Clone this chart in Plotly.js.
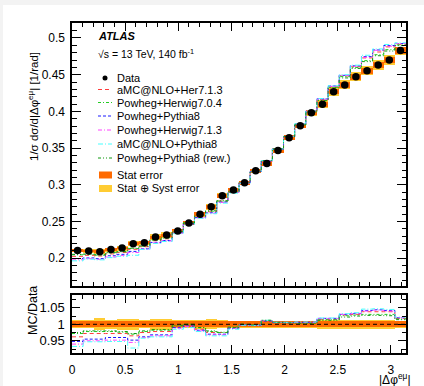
<!DOCTYPE html>
<html><head><meta charset="utf-8">
<script src="https://cdn.plot.ly/plotly-3.0.1.min.js"></script>
<style>
html,body{margin:0;padding:0;background:#f3f3f3;width:424px;height:386px;overflow:hidden}
#chart{position:absolute;left:3px;top:5px;width:421px;height:381px;background:#fff}
</style></head><body><div id="chart"></div>
<script>
// ---------------- data ----------------
const nBins = 30;
const xMax = Math.PI;
const dataVals = [0.2105,0.2098,0.2088,0.2118,0.2138,0.2198,0.2212,0.2288,0.2315,0.2370,
  0.2480,0.2600,0.2700,0.2850,0.2930,0.3028,0.3190,0.3290,0.3468,0.3640,
  0.3805,0.3980,0.4097,0.4269,0.4360,0.4473,0.4555,0.4633,0.4700,0.4828];
const statRel = [0.009,0.009,0.009,0.009,0.009,0.009,0.009,0.009,0.009,0.009,
  0.009,0.009,0.009,0.009,0.009,0.009,0.009,0.009,0.009,0.009,
  0.009,0.009,0.009,0.009,0.009,0.009,0.009,0.009,0.009,0.009];
const totRel = [0.012,0.012,0.018,0.013,0.016,0.016,0.012,0.016,0.016,0.012,
  0.012,0.013,0.015,0.012,0.010,0.010,0.010,0.010,0.010,0.010,
  0.010,0.010,0.014,0.014,0.014,0.014,0.014,0.014,0.014,0.011];
const seriesNames = ["aMC@NLO+Her7.1.3","Powheg+Herwig7.0.4","Powheg+Pythia8",
  "Powheg+Herwig7.1.3","aMC@NLO+Pythia8","Powheg+Pythia8 (rew.)"];
const ratioAmcHer713 = [0.962,0.972,0.972,0.972,0.972,0.965,0.975,0.978,0.978,0.992,
  0.995,0.985,0.975,0.975,0.990,1.000,0.998,1.010,1.006,1.005,
  1.005,1.005,1.015,1.015,1.028,1.030,1.038,1.038,1.038,1.018];
const ratioPowHer704 = [0.972,0.978,0.978,0.978,0.976,0.970,0.978,0.982,0.982,0.995,
  1.000,0.990,0.978,0.975,0.992,1.000,0.998,1.012,1.006,1.005,
  1.004,1.004,1.014,1.014,1.026,1.028,1.030,1.030,1.030,1.016];
const ratioPowPy8 = [0.948,0.955,0.955,0.960,0.960,0.952,0.962,0.968,0.968,0.990,
  0.995,0.982,0.970,0.970,0.988,0.998,0.997,1.010,1.005,1.005,
  1.006,1.006,1.018,1.018,1.030,1.033,1.042,1.044,1.042,1.020];
const ratioPowHer713 = [0.940,0.950,0.950,0.952,0.952,0.945,0.960,0.965,0.965,0.988,
  0.993,0.980,0.968,0.968,0.988,0.998,0.997,1.011,1.006,1.005,
  1.006,1.006,1.017,1.017,1.030,1.032,1.040,1.043,1.040,1.020];
const ratioAmcPy8 = [0.933,0.947,0.947,0.948,0.948,0.928,0.958,0.962,0.962,0.985,
  0.990,0.978,0.965,0.965,0.985,0.997,0.996,1.012,1.006,1.006,
  1.007,1.007,1.019,1.019,1.032,1.035,1.046,1.047,1.045,1.022];
const ratioPowPy8Rew = [0.975,0.980,0.980,0.980,0.978,0.972,0.980,0.984,0.984,0.997,
  1.000,0.990,0.980,0.976,0.990,1.000,0.998,1.012,1.006,1.004,
  1.003,1.003,1.012,1.012,1.022,1.025,1.027,1.027,1.026,1.014];
const ratios = [ratioAmcHer713, ratioPowHer704, ratioPowPy8, ratioPowHer713, ratioAmcPy8, ratioPowPy8Rew];

// ---------------- styles ----------------
const colors = ["#ff3b3b","#22cc22","#1a1aff","#ff44ff","#44ffff","#119911"];
const dashes = ["4px,3px","3px,2px,1px,2px","3px,2px","4px,2px,1px,2px","5px,2px,1px,2px","3px,2px,1px,2px,1px,2px"];
const cStat = "#ff6a00", cSyst = "#ffcc33";
const FONT = "Liberation Sans, Arial, Helvetica, sans-serif";

// bin geometry
const bw = xMax / nBins;
const centers = [], edges = [];
for (let i = 0; i < nBins; i++) centers.push((i + 0.5) * bw);
for (let i = 0; i <= nBins; i++) edges.push(i * bw);
const stepY = a => a.concat([a[a.length - 1]]);

const traces = [];
// main panel boxes
traces.push({type:'bar', x:centers, width:bw, base:dataVals.map((v,i)=>v*(1-totRel[i])),
  y:dataVals.map((v,i)=>2*v*totRel[i]), marker:{color:cSyst, line:{width:0}}, xaxis:'x2', yaxis:'y', hoverinfo:'skip'});
traces.push({type:'bar', x:centers, width:bw, base:dataVals.map((v,i)=>v*(1-statRel[i])),
  y:dataVals.map((v,i)=>2*v*statRel[i]), marker:{color:cStat, line:{width:0}}, xaxis:'x2', yaxis:'y', hoverinfo:'skip'});
// ratio bands
traces.push({type:'bar', x:centers, width:bw, base:totRel.map(e=>1-e), y:totRel.map(e=>2*e),
  marker:{color:cSyst, line:{width:0}}, xaxis:'x', yaxis:'y2', hoverinfo:'skip'});
traces.push({type:'bar', x:centers, width:bw, base:statRel.map(e=>1-e), y:statRel.map(e=>2*e),
  marker:{color:cStat, line:{width:0}}, xaxis:'x', yaxis:'y2', hoverinfo:'skip'});
// MC lines
ratios.forEach((r, k) => {
  const mc = dataVals.map((v,i)=>v*r[i]);
  traces.push({type:'scatter', mode:'lines', x:edges, y:stepY(mc), line:{shape:'hv', color:colors[k], width:1, dash:dashes[k]},
    xaxis:'x2', yaxis:'y', name:seriesNames[k]});
  traces.push({type:'scatter', mode:'lines', x:edges, y:stepY(r), line:{shape:'hv', color:colors[k], width:1, dash:dashes[k]},
    xaxis:'x', yaxis:'y2', name:seriesNames[k]});
});
// data points
traces.push({type:'scatter', mode:'markers', x:centers, y:dataVals, marker:{color:'#000', size:7.5},
  xaxis:'x2', yaxis:'y', name:'Data'});

// ---------------- layout helpers ----------------
const OX = 3, OY = 5, L = 69, T = 18, W = 334, H = 330;
const px = x => (x - OX - L) / W;
const py = y => (T + H - (y - OY)) / H;

const axCommon = {
  showline:true, linecolor:'#000', linewidth:1.6, mirror:'allticks', ticks:'inside',
  tickcolor:'#000', tickwidth:1, showgrid:false, zeroline:false,
  tickfont:{family:FONT, size:12, color:'#000'}
};
const layout = {
  width:421, height:381, margin:{l:L, r:421-L-W, t:T, b:381-T-H},
  paper_bgcolor:'#fff', plot_bgcolor:'#fff', showlegend:false,
  barmode:'overlay', bargap:0,
  font:{family:FONT, color:'#000'},
  xaxis:Object.assign({}, axCommon, {anchor:'y2', domain:[0,1], range:[0, xMax], tick0:0, dtick:0.5,
    ticklen:8, minor:{dtick:0.1, ticklen:4, ticks:'inside', tickcolor:'#000'}, ticklabelstandoff:5}),
  xaxis2:Object.assign({}, axCommon, {anchor:'y', matches:'x', domain:[0,1], range:[0, xMax], tick0:0, dtick:0.5,
    ticklen:8, showticklabels:false, minor:{dtick:0.1, ticklen:4, ticks:'inside', tickcolor:'#000'}}),
  yaxis:Object.assign({}, axCommon, {domain:[0.203,1], range:[0.1621, 0.5204], tick0:0, dtick:0.05,
    ticklen:9, minor:{dtick:0.01, ticklen:4.5, ticks:'inside', tickcolor:'#000'},
    tickfont:{family:FONT, size:12, color:'#000'}, ticklabelstandoff:3}),
  yaxis2:Object.assign({}, axCommon, {domain:[0,0.1758], range:[0.913, 1.0888], tickvals:[0.95,1,1.05],
    ticktext:['0.95','1','1.05'], ticklen:8, minor:{tickvals:[0.925,0.975,1.025,1.075], ticklen:4, ticks:'inside', tickcolor:'#000'},
    tickfont:{family:FONT, size:13, color:'#000'}, ticklabelstandoff:3}),
  shapes:[], annotations:[]
};
// reference line at 1 in ratio
layout.shapes.push({type:'line', xref:'x', yref:'y2', x0:0, x1:xMax, y0:1, y1:1, line:{color:'#000', width:1, dash:'4px,3px'}, layer:'above'});

// axis titles
layout.annotations.push({xref:'paper', yref:'paper', x:px(33), y:py(107), text:'1/σ dσ/d|Δφ<sup>eμ</sup>| [1/rad]',
  textangle:-90, showarrow:false, xanchor:'center', yanchor:'middle', font:{family:FONT, size:11.5}});
layout.annotations.push({xref:'paper', yref:'paper', x:px(33), y:py(311), text:'MC/Data',
  textangle:-90, showarrow:false, xanchor:'center', yanchor:'middle', font:{family:FONT, size:12.5}});
layout.annotations.push({xref:'paper', yref:'paper', x:px(413), y:py(379), text:'|Δφ<sup>eμ</sup>|',
  showarrow:false, xanchor:'right', yanchor:'middle', font:{family:FONT, size:12}});
// ATLAS labels
layout.annotations.push({xref:'paper', yref:'paper', x:px(96), y:py(36), text:'<b><i>ATLAS</i></b>',
  showarrow:false, xanchor:'left', yanchor:'middle', font:{family:FONT, size:11}});
layout.annotations.push({xref:'paper', yref:'paper', x:px(96), y:py(53), text:'√s = 13 TeV, 140 fb<sup>-1</sup>',
  showarrow:false, xanchor:'left', yanchor:'middle', font:{family:FONT, size:10.5}});

// legend
const rowY = [78, 89.5, 102.5, 116, 130, 144, 158, 175, 188.5];
const legText = ['Data'].concat(seriesNames, ['Stat error', 'Stat ⊕ Syst error']);
legText.forEach((t, i) => {
  layout.annotations.push({xref:'paper', yref:'paper', x:px(115), y:py(rowY[i]), text:t,
    showarrow:false, xanchor:'left', yanchor:'middle', font:{family:FONT, size:11}});
});
layout.shapes.push({type:'circle', xref:'paper', yref:'paper', x0:px(102.5), x1:px(107.5), y0:py(80.5), y1:py(75.5),
  fillcolor:'#000', line:{width:0}});
seriesNames.forEach((n, k) => {
  layout.shapes.push({type:'line', xref:'paper', yref:'paper', x0:px(98), x1:px(112), y0:py(rowY[k+1]), y1:py(rowY[k+1]),
    line:{color:colors[k], width:1, dash:dashes[k]}});
});
layout.shapes.push({type:'rect', xref:'paper', yref:'paper', x0:px(99), x1:px(112), y0:py(rowY[7]+3.5), y1:py(rowY[7]-3.5),
  fillcolor:cStat, line:{width:0}});
layout.shapes.push({type:'rect', xref:'paper', yref:'paper', x0:px(99), x1:px(112), y0:py(rowY[8]+3.5), y1:py(rowY[8]-3.5),
  fillcolor:cSyst, line:{width:0}});

Plotly.newPlot('chart', traces, layout, {staticPlot:true, displayModeBar:false});
</script></body></html>
